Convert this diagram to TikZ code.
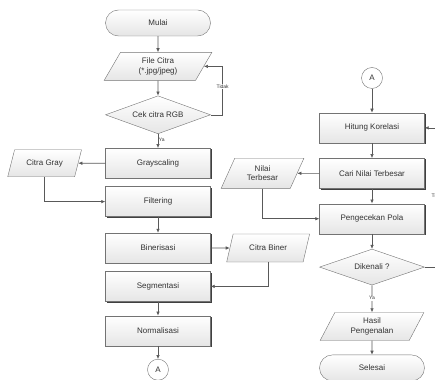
\documentclass[tikz,border=0pt]{standalone}
\usepackage{fontspec}
\setmainfont{Liberation Sans}
\usepackage{tikz}
\usetikzlibrary{shapes.geometric, arrows.meta, positioning, shadows}

\begin{document}
\begin{tikzpicture}[
			x=1pt, y=-1pt,
			node distance=14pt and 24pt,
			every node/.style={font=\fontsize{8}{9.5}\selectfont, text=black!80, align=center},
			process/.style={rectangle, draw=black!55, minimum width=105pt, minimum height=30pt, top color=white, bottom color=black!10, copy shadow={shadow xshift=1.2pt, shadow yshift=-1.2pt, fill=black!75, draw=none}},
			terminal/.style={rectangle, rounded corners=13pt, draw=black!55, minimum width=105pt, minimum height=26pt, top color=white, bottom color=black!10},
			io/.style={trapezium, trapezium left angle=65, trapezium right angle=115, trapezium stretches=true, draw=black!55, minimum height=28pt, inner sep=1pt, top color=white, bottom color=black!10},
			decision/.style={diamond, shape aspect=3, draw=black!55, minimum width=105pt, minimum height=38pt, inner sep=0pt, top color=white, bottom color=black!10},
			connector/.style={circle, draw=black!55, minimum size=21pt, inner sep=0pt, fill=white},
			arrow/.style={-{Latex[length=4pt, width=3.5pt]}, draw=black!65, line width=0.6pt},
			line/.style={draw=black!65, line width=0.6pt},
			lbl/.style={font=\fontsize{5}{6}\selectfont, fill=white, inner sep=0.6pt}
			]
			\useasboundingbox (0,0) rectangle (435,379);
			
			% Nodes (left column)
			\node (mulai) [terminal] at (158,23) {Mulai};
			\node (file) [io, minimum width=108pt, below=16pt of mulai] {File Citra\\(*.jpg/jpeg)};
			\node (cek) [decision, below=15pt of file] {Cek citra RGB};
			\node (grayscaling) [process, below=14pt of cek] {Grayscaling};
			\node (filtering) [process, below=8pt of grayscaling] {Filtering};
			\node (binerisasi) [process, below=16pt of filtering] {Binerisasi};
			\node (segmentasi) [process, below=8pt of binerisasi] {Segmentasi};
			\node (normalisasi) [process, below=14pt of segmentasi] {Normalisasi};
			\node (keA) [connector, below=13pt of normalisasi] {A};
			\node (gray) [io, minimum width=74pt, minimum height=27pt, left=27pt of grayscaling] {Citra Gray};
			\node (biner) [io, minimum width=83pt, right=19pt of binerisasi] {Citra Biner};
			
			% Nodes (right column)
			\node (dariA) [connector] at (372,78) {A};
			\node (hitung) [process, below=24pt of dariA] {Hitung Korelasi};
			\node (cari) [process, below=15pt of hitung] {Cari Nilai Terbesar};
			\node (pola) [process, below=15pt of cari] {Pengecekan Pola};
			\node (dikenali) [decision, minimum height=36pt, below=15pt of pola] {Dikenali ?};
			\node (hasil) [io, minimum width=104pt, below=27pt of dikenali] {Hasil\\Pengenalan};
			\node (selesai) [terminal, below=14pt of hasil] {Selesai};
			\node (nilai) [io, minimum width=83pt, minimum height=30pt, left=22pt of cari] {Nilai\\Terbesar};
			
			% Connections
			\draw [arrow] (mulai) -- (file);
			\draw [arrow] (file) -- (cek);
			\draw [arrow] (cek) -- node [lbl, anchor=west, fill=none, pos=0.45] {Ya} (grayscaling);
			\draw [arrow] (cek.east) -- ++(12,0) |- node [lbl, pos=0.29] {Tidak} (file);
			\draw [arrow] (grayscaling) -- (gray);
			\draw [arrow] (gray) |- (filtering);
			\draw [arrow] (filtering) -- (binerisasi);
			\draw [arrow] (binerisasi) -- (biner);
			\draw [arrow] (biner) |- (segmentasi);
			\draw [arrow] (segmentasi) -- (normalisasi);
			\draw [arrow] (normalisasi) -- (keA);
			
			\draw [arrow] (dariA) -- (hitung);
			\draw [arrow] (hitung) -- (cari);
			\draw [arrow] (cari) -- (nilai);
			\draw [arrow] (nilai) |- (pola);
			\draw [arrow] (cari) -- (pola);
			\draw [arrow] (pola) -- (dikenali);
			\draw [arrow] (dikenali) -- node [lbl, pos=0.48] {Ya} (hasil);
			\draw [arrow] (dikenali.east) -- ++(13,0) |- node [lbl, pos=0.255] {Tidak} (hitung);
			\draw [arrow] (hasil) -- (selesai);
			
		\end{tikzpicture}
\end{document}
